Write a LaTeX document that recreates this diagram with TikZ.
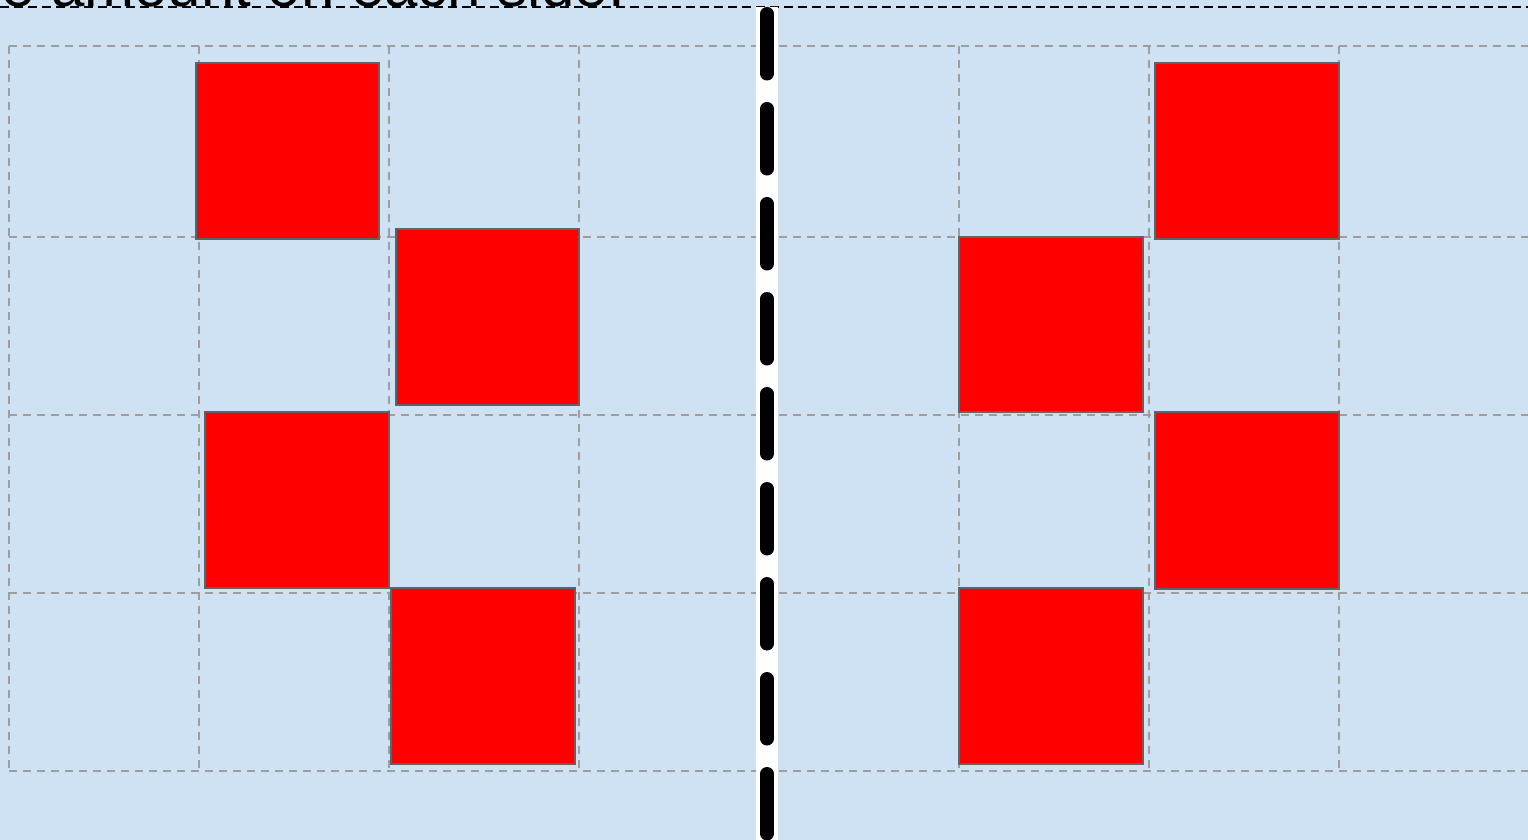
\documentclass[tikz,border=0pt]{standalone}
\usepackage{fontspec}
\setmainfont{Liberation Sans}
\usetikzlibrary{calc}
\definecolor{bgblue}{HTML}{CFE2F3}
\definecolor{gridgray}{HTML}{9E9E9E}
\definecolor{edgegray}{HTML}{5F6368}
\begin{document}
\begin{tikzpicture}[x=1pt,y=-1pt,
  gridline/.style={draw=gridgray,line width=2pt,dash pattern=on 8pt off 6pt},
  sq/.style={draw=edgegray,line width=2pt,fill=red,anchor=north west,inner sep=0pt,outer sep=0pt,minimum width=183pt,minimum height=176pt},
  midline/.style={line width=13.5pt,line cap=round,dash pattern=on 60pt off 35pt},
  topline/.style={line width=2pt,dash pattern=on 8.5pt off 5.5pt}]
\useasboundingbox (0,0) rectangle (1528,840);
\clip (0,0) rectangle (1528,840);
\fill[bgblue] (0,0) rectangle (1528,840);
% caption (cut off at top, as in the reference)
\node[anchor=base east,inner sep=0pt,font=\fontsize{60}{62}\selectfont] (cap) at (625,6.5) {e amount on each side.};
% grid
\foreach \y in {46,237,415,593,771} {
  \draw[gridline] (9,\y) -- (1529,\y);
}
\foreach \x in {9,199,389,579,769,959,1149,1339,1529} {
  \draw[gridline] (\x,46) -- (\x,771);
}
% red squares
\node[sq] (l1) at (196,63) {};
\node[sq] (l2) at (396,229) {};
\node[sq,minimum width=184pt] (l3) at (205,412) {};
\node[sq,minimum width=184pt] (l4) at (391,588) {};
\node[sq,minimum width=184pt] (r1) at (1155,63) {};
\node[sq,minimum width=184pt,minimum height=175pt] (r2) at (959,237) {};
\node[sq,minimum width=184pt,minimum height=177pt] (r3) at (1155,412) {};
\node[sq,minimum width=184pt] (r4) at (959,588) {};
% top dashed line
\coordinate (tl) at (0,7.5);
\coordinate (tr) at (1528,7.5);
\draw[topline] (tl) -- (tr);
% central divider
\coordinate (mt) at (767,7);
\coordinate (mb) at (767,845);
\fill[white] (756,7) rectangle (778,840);
\draw[midline] ($(mt)+(0,6.75)$) -- (mb);
\end{tikzpicture}
\end{document}
